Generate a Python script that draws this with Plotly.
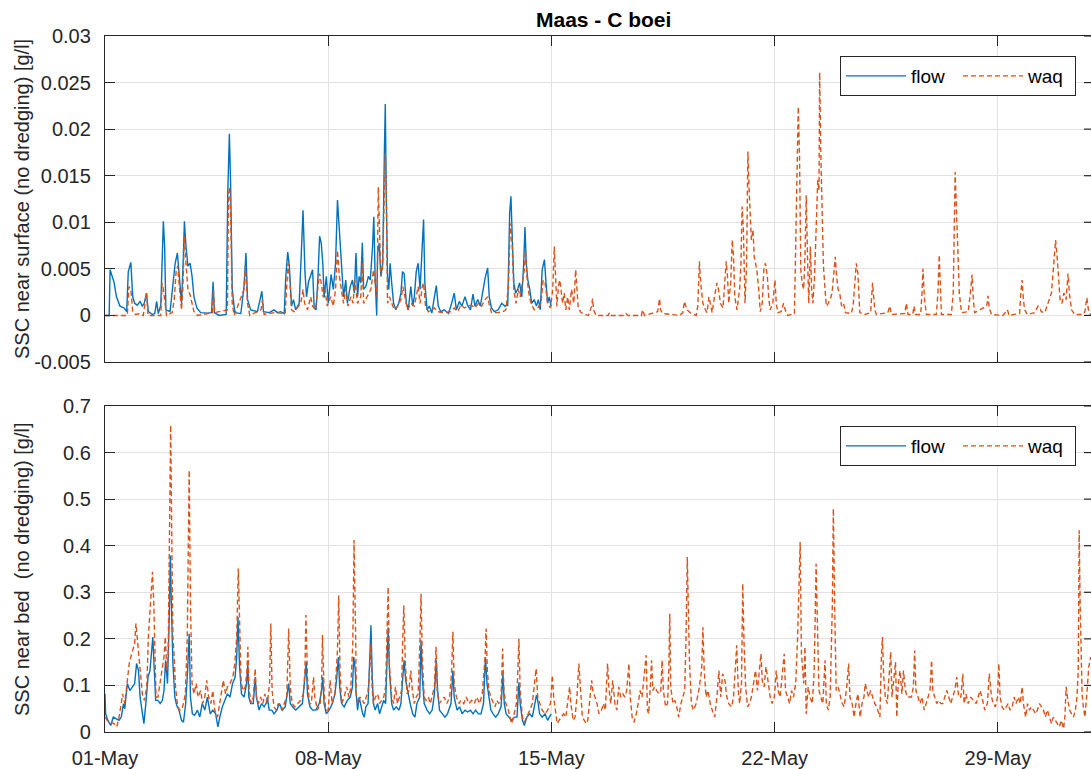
import datetime as dt
import plotly.graph_objects as go

START = dt.datetime(2019, 5, 1)

# ---------------- data (day offset from 01-May, value) ----------------
# top panel values in mg/l (= 0.001 g/l)
surf_flow = [(0.00,0),(0.13,0),(0.16,4.9),(0.28,3.6),(0.36,2.0),(0.47,1.0),(0.60,0.8),(0.68,0.4),(0.73,4.7),(0.81,5.7),
 (0.87,2.0),(0.93,1.3),(1.01,1.1),(1.10,1.5),(1.17,1.0),(1.23,1.3),(1.30,2.4),(1.36,0.4),(1.49,0.1),(1.56,0.2),
 (1.62,1.5),(1.67,0.2),(1.75,1.1),(1.80,8.3),(1.83,10.1),(1.87,7.4),(1.91,0.6),(2.04,0.4),(2.12,2.8),(2.20,5.6),
 (2.27,6.7),(2.33,4.2),(2.40,1.3),(2.45,5.6),(2.49,10.1),(2.54,7.4),(2.60,5.3),(2.67,5.6),(2.73,4.2),(2.79,2.0),
 (2.88,0.8),(3.00,0.3),(3.21,0.25),(3.34,0.3),(3.39,3.6),(3.43,0.3),(3.58,0),(3.80,0.1),(3.85,13.1),(3.90,19.5),
 (3.94,14.0),(3.99,2.8),(4.07,0.3),(4.26,0.2),(4.36,3.1),(4.42,6.7),(4.47,1.7),(4.57,0.6),(4.78,0.4),(4.92,2.6),
 (4.97,0.4),(5.15,0.3),(5.30,0.6),(5.41,0.3),(5.51,0.4),(5.62,0.2),(5.67,4.2),(5.73,6.8),(5.78,5.3),(5.85,1.0),
 (5.91,1.7),(5.98,0.6),(6.09,1.3),(6.16,7.0),(6.21,11.3),(6.27,4.7),(6.32,2.0),(6.38,3.6),(6.45,4.2),(6.51,4.9),
 (6.56,0.8),(6.62,0.6),(6.68,4.2),(6.73,8.5),(6.78,7.8),(6.83,5.6),(6.87,1.9),(6.94,4.2),(7.00,1.3),(7.09,4.4),
 (7.16,2.8),(7.23,5.6),(7.29,12.4),(7.35,8.8),(7.42,5.6),(7.48,2.0),(7.55,3.8),(7.60,1.3),(7.69,3.1),(7.76,3.8),
 (7.82,2.4),(7.87,6.7),(7.92,2.0),(7.97,4.2),(8.02,3.5),(8.07,7.8),(8.11,2.8),(8.18,3.1),(8.26,4.2),(8.32,3.8),
 (8.39,7.4),(8.43,10.6),(8.47,4.2),(8.52,0.0),(8.55,6.7),(8.60,7.8),(8.65,4.2),(8.71,5.6),(8.76,17.4),(8.79,22.7),
 (8.82,13.1),(8.86,4.2),(8.90,2.8),(8.94,5.6),(8.99,3.5),(9.05,1.3),(9.12,0.6),(9.21,1.3),(9.28,2.4),(9.33,4.7),
 (9.38,4.5),(9.45,1.3),(9.51,0.6),(9.59,3.1),(9.65,1.0),(9.70,2.0),(9.76,4.7),(9.82,5.6),(9.88,2.8),(9.95,7.0),
 (9.99,10.3),(10.03,3.5),(10.10,0.6),(10.17,1.0),(10.25,0.25),(10.33,2.0),(10.39,3.2),(10.45,1.0),(10.53,0.4),
 (10.64,0.6),(10.77,0.2),(10.87,1.3),(10.95,2.4),(11.02,0.6),(11.11,1.5),(11.19,1.0),(11.29,2.0),(11.37,1.1),
 (11.46,0.6),(11.54,2.3),(11.60,1.0),(11.69,1.7),(11.77,1.0),(11.84,2.4),(11.92,4.0),(12.00,5.1),(12.05,2.0),
 (12.12,0.8),(12.21,0.4),(12.33,0.6),(12.44,1.3),(12.54,1.0),(12.63,1.1),(12.69,11.0),(12.73,12.8),(12.77,8.5),
 (12.82,3.5),(12.88,2.4),(12.94,2.8),(13.00,3.5),(13.07,2.0),(13.13,5.6),(13.17,9.5),(13.21,5.6),(13.26,3.8),
 (13.32,2.8),(13.38,1.3),(13.46,1.7),(13.53,1.0),(13.59,1.7),(13.65,0.6),(13.71,4.9),(13.78,6.0),(13.83,3.5),
 (13.88,1.3),(13.93,2.0),(13.99,1.0)]

surf_waq = [(0.00,0),(0.70,0),(0.75,3.1),(0.81,2.8),(0.87,0.4),(0.96,0.1),(1.12,0.2),(1.20,0),(1.30,2.4),(1.35,0),
 (1.75,0),(1.79,3.5),(1.83,2.8),(1.88,1.0),(1.93,0),(2.11,0.3),(2.17,1.7),(2.23,4.7),(2.28,5.3),(2.34,2.8),
 (2.40,0.6),(2.44,2.8),(2.49,8.5),(2.54,5.6),(2.60,2.8),(2.67,2.2),(2.72,1.3),(2.79,0.4),(2.90,0),(3.37,0.3),
 (3.40,2.8),(3.44,0.3),(3.84,0.6),(3.87,12.8),(3.91,13.8),(3.95,9.2),(3.99,1.3),(4.05,0),(4.36,2.8),(4.40,5.3),
 (4.47,1.3),(4.54,0),(4.89,0.6),(4.94,1.7),(4.99,0.1),(5.30,0.3),(5.65,0.2),(5.70,4.2),(5.74,5.6),(5.80,3.5),
 (5.85,0.6),(5.93,0.4),(6.14,1.3),(6.21,2.8),(6.26,1.3),(6.35,0.6),(6.45,2.0),(6.51,1.0),(6.60,0.6),(6.67,2.8),
 (6.73,4.5),(6.78,3.5),(6.84,2.0),(6.90,2.8),(6.97,1.0),(7.08,2.0),(7.16,1.0),(7.23,2.8),(7.29,7.0),(7.35,4.2),
 (7.42,2.8),(7.48,1.3),(7.55,2.8),(7.62,1.0),(7.71,2.0),(7.78,1.3),(7.83,3.8),(7.87,2.8),(7.92,1.3),(8.02,2.0),
 (8.07,5.6),(8.11,1.3),(8.23,2.0),(8.34,2.8),(8.42,4.9),(8.48,3.5),(8.53,2.0),(8.57,13.8),(8.61,9.9),(8.65,4.2),
 (8.70,4.9),(8.76,15.3),(8.79,17.4),(8.82,13.8),(8.86,1.3),(8.92,2.0),(8.99,1.3),(9.07,0.6),(9.18,1.0),(9.28,1.7),
 (9.34,3.1),(9.40,2.0),(9.49,0.6),(9.59,1.3),(9.70,1.0),(9.76,2.0),(9.82,3.1),(9.88,1.3),(9.95,3.1),(9.99,3.5),
 (10.05,1.0),(10.14,0.4),(10.33,0.8),(10.43,0.4),(10.64,0.3),(10.85,0.4),(10.95,0.8),(11.06,0.4),(11.16,1.1),
 (11.27,0.8),(11.37,1.0),(11.50,1.1),(11.60,0.8),(11.71,1.3),(11.81,1.0),(11.92,1.7),(12.00,2.0),(12.06,1.0),
 (12.12,0.3),(12.31,0.3),(12.47,0.4),(12.57,0.6),(12.65,3.1),(12.69,7.8),(12.73,9.9),(12.77,7.4),(12.82,2.8),
 (12.89,1.3),(12.96,2.8),(13.02,2.0),(13.09,3.8),(13.15,4.9),(13.19,7.0),(13.23,4.2),(13.29,2.4),(13.36,1.3),
 (13.46,0.6),(13.57,0.8),(13.67,1.3),(13.74,3.8),(13.80,3.5),(13.88,1.3),(13.97,0.8),(14.04,2.8),(14.09,7.4),
 (14.13,4.5),(14.17,1.0),(14.22,3.1),(14.26,3.8),(14.30,2.8),(14.35,1.3),(14.40,2.4),(14.45,0.6),(14.51,2.0),
 (14.56,0.6),(14.63,2.8),(14.70,1.3),(14.76,4.9),(14.80,2.8),(14.84,0.8),(14.93,0.3),(15.04,0.1),(15.16,0),
 (15.26,1.0),(15.29,1.8),(15.32,0.6),(15.40,0),(15.78,0),(15.82,0.3),(15.87,0),(16.30,0),(16.34,0.2),(16.40,0),
 (16.82,0),(16.86,0.6),(16.92,0),(17.33,0.4),(17.39,1.8),(17.42,0.6),(17.49,0.2),(18.02,0),(18.12,0.3),(18.17,1.5),
 (18.25,0.6),(18.35,0.3),(18.54,0),(18.59,1.0),(18.64,5.8),(18.68,3.5),(18.75,1.3),(18.83,0.6),(18.88,0.3),
 (18.94,2.0),(18.99,1.0),(19.04,0.3),(19.11,2.0),(19.19,3.5),(19.24,2.8),(19.30,1.3),(19.38,0.8),(19.44,3.5),
 (19.48,5.8),(19.52,4.2),(19.56,1.3),(19.62,3.5),(19.67,8.1),(19.71,6.3),(19.75,2.0),(19.82,0.6),(19.90,2.8),
 (19.94,5.3),(19.98,11.7),(20.02,9.2),(20.07,1.3),(20.12,5.6),(20.16,17.6),(20.20,13.4),(20.24,10.3),(20.27,8.1),
 (20.32,9.2),(20.36,6.3),(20.40,5.6),(20.44,4.9),(20.50,2.8),(20.55,0.4),(20.61,1.3),(20.66,4.9),(20.71,5.6),
 (20.77,4.2),(20.82,1.7),(20.86,0.6),(20.94,1.3),(21.01,3.8),(21.05,1.3),(21.10,0.3),(21.20,0.4),(21.28,1.3),
 (21.33,0.6),(21.41,0),(21.62,0.2),(21.67,9.9),(21.74,22.4),(21.78,17.0),(21.82,4.9),(21.86,3.5),(21.91,2.8),
 (21.95,6.3),(21.99,12.9),(22.03,6.3),(22.07,1.3),(22.12,7.4),(22.16,2.8),(22.20,1.3),(22.25,4.2),(22.30,9.2),
 (22.35,14.5),(22.39,13.4),(22.41,26.1),(22.45,17.0),(22.49,9.9),(22.53,5.3),(22.58,2.8),(22.62,1.0),(22.68,1.3),
 (22.74,1.7),(22.80,2.4),(22.86,4.5),(22.90,6.3),(22.94,4.2),(22.99,2.8),(23.04,2.4),(23.10,1.0),(23.16,1.3),
 (23.22,0.3),(23.40,0.2),(23.46,1.0),(23.56,5.6),(23.61,4.5),(23.67,0.3),(23.82,0.1),(24.01,0.3),(24.07,3.5),
 (24.14,0.6),(24.19,0.1),(24.55,0.3),(24.61,1.0),(24.66,0.1),(25.08,0.2),(25.13,1.3),(25.18,0.1),(25.33,0.1),
 (25.37,1.0),(25.41,0.1),(25.58,0.1),(25.62,2.4),(25.65,5.0),(25.70,1.7),(25.76,0.1),(26.07,0.1),(26.12,2.4),
 (26.16,6.5),(26.20,2.4),(26.23,0.1),(26.54,0.1),(26.60,2.4),(26.66,15.4),(26.71,9.5),(26.75,6.0),(26.79,2.4),
 (26.86,0.3),(27.07,0.4),(27.15,2.8),(27.19,4.4),(27.23,1.7),(27.27,0.3),(27.65,1.0),(27.69,2.1),(27.73,0.8),
 (27.80,0.1),(28.16,0),(28.30,0.6),(28.35,0),(28.68,0.2),(28.72,2.4),(28.76,3.8),(28.80,1.7),(28.84,0.6),
 (28.92,0.1),(29.15,0.3),(29.26,1.0),(29.32,0.8),(29.36,0.4),(29.47,0.3),(29.68,2.4),(29.76,6.5),(29.81,8.1),
 (29.85,6.7),(29.89,4.5),(29.95,1.7),(30.01,1.3),(30.07,2.4),(30.14,1.7),(30.20,4.5),(30.24,2.4),(30.31,0.6),
 (30.41,0.1),(30.67,0.1),(30.73,0.4),(30.79,1.9),(30.85,0.3),(30.91,0.1)]

# bottom panel values in g/l
bed_flow = [(0.00,0.082),(0.02,0.039),(0.09,0.025),(0.18,0.014),(0.26,0.032),(0.35,0.029),(0.44,0.025),(0.51,0.032),
 (0.58,0.061),(0.62,0.050),(0.70,0.104),(0.78,0.089),(0.86,0.097),(0.93,0.104),(0.99,0.147),(1.05,0.132),(1.10,0.075),
 (1.17,0.039),(1.22,0.018),(1.28,0.061),(1.35,0.118),(1.41,0.132),(1.45,0.161),(1.50,0.204),(1.54,0.140),(1.59,0.068),
 (1.66,0.068),(1.73,0.061),(1.80,0.068),(1.85,0.089),(1.90,0.154),(1.96,0.104),(2.01,0.233),(2.05,0.379),(2.08,0.276),
 (2.13,0.147),(2.19,0.075),(2.25,0.057),(2.32,0.047),(2.40,0.025),(2.46,0.021),(2.53,0.061),(2.59,0.132),(2.64,0.211),
 (2.68,0.075),(2.74,0.039),(2.81,0.036),(2.90,0.047),(2.97,0.032),(3.05,0.061),(3.13,0.047),(3.21,0.075),(3.30,0.039),
 (3.38,0.047),(3.47,0.039),(3.54,0.011),(3.60,0.032),(3.68,0.054),(3.76,0.068),(3.84,0.082),(3.92,0.075),(4.00,0.104),
 (4.08,0.118),(4.13,0.161),(4.17,0.247),(4.22,0.140),(4.28,0.082),(4.36,0.075),(4.44,0.104),(4.48,0.147),(4.51,0.075),
 (4.57,0.061),(4.65,0.061),(4.71,0.118),(4.75,0.075),(4.83,0.047),(4.91,0.061),(4.99,0.054),(5.05,0.061),(5.09,0.075),
 (5.15,0.047),(5.23,0.047),(5.30,0.039),(5.39,0.047),(5.47,0.061),(5.56,0.047),(5.65,0.054),(5.72,0.082),(5.76,0.104),
 (5.81,0.061),(5.88,0.054),(5.98,0.047),(6.09,0.054),(6.19,0.061),(6.27,0.118),(6.31,0.150),(6.35,0.082),(6.43,0.054),
 (6.51,0.047),(6.61,0.047),(6.72,0.061),(6.79,0.089),(6.83,0.118),(6.87,0.061),(6.94,0.039),(7.03,0.047),(7.13,0.061),
 (7.21,0.082),(7.27,0.118),(7.32,0.161),(7.36,0.097),(7.42,0.061),(7.50,0.054),(7.60,0.068),(7.69,0.075),(7.76,0.097),
 (7.80,0.161),(7.85,0.132),(7.87,0.089),(7.92,0.047),(7.97,0.075),(8.02,0.061),(8.08,0.039),(8.13,0.032),(8.18,0.054),
 (8.25,0.061),(8.32,0.175),(8.34,0.229),(8.38,0.118),(8.42,0.061),(8.47,0.047),(8.55,0.061),(8.61,0.039),(8.67,0.054),
 (8.74,0.068),(8.80,0.061),(8.84,0.161),(8.88,0.225),(8.92,0.132),(8.99,0.061),(9.05,0.047),(9.13,0.054),(9.22,0.047),
 (9.28,0.061),(9.34,0.118),(9.38,0.154),(9.43,0.111),(9.49,0.089),(9.57,0.061),(9.65,0.039),(9.72,0.032),(9.78,0.061),
 (9.87,0.075),(9.91,0.197),(9.95,0.118),(10.01,0.061),(10.10,0.047),(10.18,0.039),(10.26,0.047),(10.33,0.082),
 (10.39,0.154),(10.43,0.089),(10.49,0.047),(10.58,0.039),(10.66,0.032),(10.74,0.039),(10.85,0.061),(10.91,0.132),
 (10.95,0.075),(11.04,0.047),(11.12,0.054),(11.20,0.039),(11.29,0.047),(11.37,0.043),(11.46,0.047),(11.54,0.039),
 (11.62,0.047),(11.71,0.039),(11.79,0.039),(11.87,0.061),(11.93,0.161),(11.98,0.104),(12.04,0.075),(12.10,0.047),
 (12.17,0.039),(12.25,0.032),(12.33,0.039),(12.42,0.054),(12.48,0.125),(12.52,0.061),(12.58,0.039),(12.67,0.032),
 (12.75,0.025),(12.84,0.032),(12.92,0.032),(12.98,0.107),(13.02,0.061),(13.09,0.025),(13.15,0.014),(13.23,0.032),
 (13.32,0.039),(13.40,0.032),(13.46,0.054),(13.53,0.079),(13.57,0.068),(13.63,0.039),(13.71,0.032),(13.80,0.039),
 (13.88,0.025),(13.94,0.032),(13.99,0.039)]

bed_waq = [(0.00,0.032),(0.07,0.025),(0.18,0.021),(0.28,0.018),(0.37,0.011),(0.44,0.032),(0.51,0.061),(0.55,0.082),
 (0.62,0.061),(0.70,0.111),(0.76,0.147),(0.81,0.161),(0.87,0.175),(0.93,0.190),(0.97,0.233),(1.01,0.204),(1.06,0.161),
 (1.12,0.118),(1.18,0.075),(1.24,0.068),(1.31,0.097),(1.36,0.204),(1.40,0.247),(1.44,0.276),(1.49,0.344),(1.53,0.276),
 (1.56,0.161),(1.60,0.075),(1.66,0.075),(1.73,0.104),(1.79,0.132),(1.85,0.161),(1.89,0.204),(1.94,0.132),(1.98,0.161),
 (2.02,0.490),(2.06,0.659),(2.10,0.376),(2.13,0.204),(2.17,0.161),(2.21,0.097),(2.27,0.061),(2.33,0.047),(2.40,0.047),
 (2.46,0.061),(2.52,0.082),(2.58,0.204),(2.64,0.562),(2.68,0.276),(2.73,0.104),(2.79,0.082),(2.86,0.104),(2.92,0.075),
 (3.00,0.089),(3.06,0.061),(3.13,0.075),(3.19,0.111),(3.25,0.075),(3.32,0.061),(3.38,0.089),(3.44,0.047),(3.53,0.032),
 (3.59,0.061),(3.65,0.089),(3.71,0.111),(3.78,0.082),(3.84,0.097),(3.92,0.104),(4.01,0.118),(4.07,0.147),(4.13,0.204),
 (4.18,0.351),(4.23,0.240),(4.27,0.104),(4.34,0.089),(4.40,0.097),(4.45,0.132),(4.48,0.183),(4.52,0.089),(4.59,0.061),
 (4.65,0.075),(4.71,0.136),(4.75,0.075),(4.81,0.061),(4.88,0.075),(4.95,0.061),(5.01,0.082),(5.09,0.061),(5.16,0.104),
 (5.20,0.233),(5.24,0.089),(5.30,0.054),(5.37,0.047),(5.43,0.061),(5.49,0.054),(5.55,0.047),(5.62,0.061),(5.70,0.075),
 (5.76,0.222),(5.81,0.097),(5.87,0.061),(5.95,0.054),(6.04,0.061),(6.14,0.068),(6.22,0.082),(6.27,0.132),(6.30,0.251),
 (6.35,0.118),(6.41,0.061),(6.47,0.061),(6.54,0.118),(6.58,0.075),(6.66,0.047),(6.75,0.061),(6.79,0.097),(6.82,0.208),
 (6.87,0.089),(6.92,0.047),(7.00,0.047),(7.06,0.111),(7.12,0.061),(7.21,0.082),(7.29,0.175),(7.33,0.293),(7.37,0.132),
 (7.42,0.061),(7.50,0.075),(7.58,0.097),(7.65,0.075),(7.71,0.097),(7.77,0.190),(7.81,0.412),(7.86,0.204),(7.88,0.075),
 (7.94,0.061),(8.00,0.075),(8.07,0.068),(8.13,0.061),(8.19,0.075),(8.25,0.089),(8.32,0.154),(8.34,0.190),(8.38,0.089),
 (8.42,0.061),(8.48,0.075),(8.55,0.082),(8.61,0.061),(8.67,0.068),(8.74,0.075),(8.80,0.097),(8.84,0.204),(8.88,0.311),
 (8.92,0.140),(8.99,0.075),(9.05,0.061),(9.11,0.097),(9.17,0.061),(9.24,0.075),(9.30,0.089),(9.34,0.204),(9.37,0.272),
 (9.42,0.147),(9.47,0.082),(9.53,0.089),(9.59,0.132),(9.64,0.089),(9.70,0.061),(9.76,0.075),(9.82,0.082),(9.88,0.204),
 (9.91,0.297),(9.95,0.161),(10.01,0.075),(10.07,0.068),(10.14,0.075),(10.20,0.061),(10.26,0.075),(10.33,0.097),
 (10.38,0.183),(10.42,0.089),(10.48,0.061),(10.56,0.068),(10.64,0.075),(10.72,0.061),(10.81,0.075),(10.87,0.132),
 (10.91,0.215),(10.95,0.104),(11.02,0.075),(11.10,0.061),(11.16,0.068),(11.25,0.061),(11.33,0.075),(11.41,0.061),
 (11.50,0.068),(11.58,0.061),(11.66,0.075),(11.75,0.061),(11.83,0.082),(11.92,0.161),(11.95,0.222),(11.99,0.132),
 (12.04,0.089),(12.10,0.075),(12.17,0.061),(12.23,0.054),(12.29,0.068),(12.35,0.061),(12.42,0.075),(12.47,0.179),
 (12.51,0.089),(12.57,0.061),(12.65,0.047),(12.71,0.032),(12.75,0.018),(12.81,0.032),(12.90,0.061),(12.94,0.118),
 (12.98,0.200),(13.02,0.089),(13.09,0.032),(13.15,0.021),(13.23,0.032),(13.32,0.047),(13.40,0.061),(13.46,0.097),
 (13.52,0.136),(13.57,0.075),(13.63,0.061),(13.71,0.047),(13.80,0.039),(13.88,0.047),(13.97,0.061),(14.03,0.122),
 (14.07,0.075),(14.13,0.039),(14.18,0.018),(14.24,0.025),(14.30,0.032),(14.38,0.039),(14.45,0.032),(14.51,0.061),
 (14.57,0.097),(14.61,0.061),(14.68,0.025),(14.74,0.032),(14.80,0.075),(14.86,0.147),(14.91,0.097),(14.97,0.032),
 (15.03,0.025),(15.09,0.018),(15.14,0.025),(15.20,0.061),(15.26,0.111),(15.30,0.089),(15.37,0.075),(15.43,0.061),
 (15.49,0.039),(15.57,0.047),(15.63,0.061),(15.69,0.047),(15.76,0.147),(15.80,0.097),(15.86,0.061),(15.92,0.111),
 (15.99,0.061),(16.05,0.047),(16.11,0.097),(16.17,0.075),(16.24,0.082),(16.30,0.075),(16.36,0.089),(16.43,0.147),
 (16.47,0.075),(16.53,0.032),(16.59,0.021),(16.66,0.039),(16.72,0.061),(16.78,0.089),(16.84,0.075),(16.91,0.118),
 (16.97,0.165),(17.01,0.047),(17.05,0.039),(17.10,0.097),(17.14,0.154),(17.18,0.089),(17.24,0.097),(17.30,0.089),
 (17.37,0.082),(17.43,0.089),(17.47,0.154),(17.51,0.089),(17.58,0.054),(17.64,0.061),(17.68,0.132),(17.71,0.254),
 (17.74,0.097),(17.81,0.061),(17.87,0.068),(17.93,0.054),(17.99,0.032),(18.06,0.061),(18.12,0.075),(18.18,0.089),
 (18.22,0.204),(18.26,0.376),(18.29,0.276),(18.33,0.147),(18.39,0.061),(18.45,0.047),(18.54,0.061),(18.62,0.089),
 (18.71,0.132),(18.75,0.225),(18.79,0.132),(18.85,0.075),(18.91,0.089),(18.98,0.061),(19.04,0.047),(19.12,0.032),
 (19.19,0.075),(19.25,0.132),(19.31,0.075),(19.37,0.125),(19.44,0.111),(19.50,0.075),(19.56,0.061),(19.65,0.054),
 (19.71,0.075),(19.77,0.132),(19.81,0.186),(19.86,0.089),(19.90,0.061),(19.96,0.104),(20.00,0.319),(20.04,0.190),
 (20.09,0.097),(20.15,0.054),(20.21,0.061),(20.27,0.075),(20.34,0.104),(20.40,0.132),(20.46,0.089),(20.53,0.132),
 (20.57,0.168),(20.61,0.111),(20.67,0.097),(20.73,0.140),(20.80,0.104),(20.86,0.075),(20.92,0.061),(20.99,0.075),
 (21.05,0.132),(21.11,0.089),(21.17,0.075),(21.24,0.118),(21.30,0.168),(21.34,0.089),(21.40,0.075),(21.47,0.061),
 (21.53,0.089),(21.59,0.075),(21.66,0.104),(21.72,0.204),(21.80,0.408),(21.84,0.168),(21.91,0.104),(21.95,0.183),
 (21.99,0.039),(22.05,0.097),(22.11,0.075),(22.18,0.061),(22.24,0.132),(22.30,0.361),(22.35,0.204),(22.39,0.089),
 (22.45,0.075),(22.51,0.061),(22.58,0.154),(22.62,0.061),(22.68,0.047),(22.74,0.075),(22.81,0.276),(22.84,0.480),
 (22.88,0.276),(22.93,0.089),(22.99,0.097),(23.06,0.075),(23.12,0.061),(23.18,0.054),(23.26,0.097),(23.32,0.147),
 (23.36,0.075),(23.43,0.061),(23.49,0.032),(23.55,0.061),(23.61,0.082),(23.68,0.032),(23.74,0.061),(23.80,0.075),
 (23.84,0.104),(23.89,0.089),(23.95,0.075),(24.01,0.089),(24.07,0.075),(24.14,0.061),(24.20,0.054),(24.26,0.039),
 (24.30,0.032),(24.35,0.168),(24.38,0.204),(24.42,0.118),(24.47,0.075),(24.53,0.061),(24.60,0.132),(24.64,0.172),
 (24.68,0.075),(24.74,0.111),(24.79,0.150),(24.83,0.032),(24.87,0.097),(24.93,0.132),(24.99,0.082),(25.04,0.132),
 (25.10,0.089),(25.16,0.075),(25.22,0.075),(25.29,0.075),(25.35,0.097),(25.39,0.175),(25.43,0.089),(25.50,0.075),
 (25.56,0.061),(25.62,0.075),(25.69,0.047),(25.75,0.061),(25.81,0.075),(25.87,0.089),(25.92,0.154),(25.96,0.089),
 (26.02,0.075),(26.08,0.061),(26.15,0.068),(26.21,0.061),(26.27,0.061),(26.33,0.075),(26.40,0.089),(26.46,0.075),
 (26.52,0.061),(26.58,0.075),(26.65,0.089),(26.71,0.118),(26.77,0.075),(26.84,0.075),(26.90,0.125),(26.94,0.061),
 (27.00,0.082),(27.07,0.061),(27.15,0.075),(27.23,0.068),(27.32,0.061),(27.38,0.075),(27.44,0.089),(27.50,0.075),
 (27.59,0.047),(27.67,0.061),(27.73,0.125),(27.80,0.075),(27.86,0.061),(27.92,0.054),(27.99,0.075),(28.03,0.147),
 (28.07,0.075),(28.13,0.054),(28.20,0.047),(28.26,0.054),(28.32,0.061),(28.38,0.047),(28.45,0.054),(28.51,0.075),
 (28.57,0.061),(28.64,0.075),(28.70,0.061),(28.76,0.097),(28.80,0.061),(28.87,0.032),(28.93,0.061),(28.99,0.047),
 (29.05,0.054),(29.12,0.047),(29.18,0.039),(29.24,0.047),(29.30,0.061),(29.37,0.054),(29.43,0.047),(29.49,0.032),
 (29.55,0.047),(29.62,0.032),(29.68,0.018),(29.74,0.032),(29.81,0.025),(29.87,0.018),(29.93,0.011),(29.99,0.025),
 (30.06,0.007),(30.10,0.032),(30.14,0.097),(30.18,0.075),(30.25,0.047),(30.31,0.039),(30.37,0.032),(30.43,0.047),
 (30.48,0.075),(30.52,0.132),(30.55,0.433),(30.58,0.276),(30.60,0.204),(30.64,0.082),(30.68,0.054),(30.73,0.032),
 (30.79,0.082),(30.85,0.140),(30.91,0.161)]

x_tick_days = [0, 7, 14, 21, 28]
x_tick_labels = ["01-May", "08-May", "15-May", "22-May", "29-May"]
surf_ticks = [-0.005, 0, 0.005, 0.01, 0.015, 0.02, 0.025, 0.03]
surf_tick_labels = ["-0.005", "0", "0.005", "0.01", "0.015", "0.02", "0.025", "0.03"]
bed_ticks = [0, 0.1, 0.2, 0.3, 0.4, 0.5, 0.6, 0.7]
bed_tick_labels = ["0", "0.1", "0.2", "0.3", "0.4", "0.5", "0.6", "0.7"]

# ---------------- helpers ----------------
def to_xy(pairs, scale=1.0):
    xs = [START + dt.timedelta(days=d) for d, _ in pairs]
    ys = [v * scale for _, v in pairs]
    return xs, ys

FONT = "Liberation Sans, Arial, Helvetica, sans-serif"
AX = "#262626"
GRID = "#e2e2e2"
BLUE = "#0072BD"
ORANGE = "#D95319"
W, H = 1091, 769
L, R, T, B = 105, 0, 36, 37
PW = W - L - R
PH = H - T - B
x_end = START + dt.timedelta(days=30.92)
x_range = [START, x_end]
x_tickvals = [START + dt.timedelta(days=d) for d in x_tick_days]

top_dom = [(732 - 362) / PH, 1.0]
bot_dom = [0.0, (732 - 406) / PH]

fig = go.Figure()
sx, sy = to_xy(surf_flow, 0.001)
fig.add_trace(go.Scatter(x=sx, y=sy, mode="lines", name="flow", line=dict(color=BLUE, width=1.4),
                         xaxis="x", yaxis="y", legend="legend"))
sx, sy = to_xy(surf_waq, 0.001)
fig.add_trace(go.Scatter(x=sx, y=sy, mode="lines", name="waq", line=dict(color=ORANGE, width=1.4, dash="5px,3px"),
                         xaxis="x", yaxis="y", legend="legend"))
bx, by = to_xy(bed_flow)
fig.add_trace(go.Scatter(x=bx, y=by, mode="lines", name="flow", line=dict(color=BLUE, width=1.4),
                         xaxis="x2", yaxis="y2", legend="legend2"))
bx, by = to_xy(bed_waq)
fig.add_trace(go.Scatter(x=bx, y=by, mode="lines", name="waq", line=dict(color=ORANGE, width=1.4, dash="5px,3px"),
                         xaxis="x2", yaxis="y2", legend="legend2"))

xcommon = dict(type="date", range=x_range, tickvals=x_tickvals, ticktext=x_tick_labels,
               showgrid=True, gridcolor=GRID, gridwidth=1.2, ticks="inside", ticklen=10, tickwidth=1.2,
               tickcolor=AX, showline=True, linecolor=AX, linewidth=1.3, mirror="ticks", zeroline=False,
               tickfont=dict(family=FONT, size=20, color="#262626"))
ycommon = dict(showgrid=True, gridcolor=GRID, gridwidth=1.2, ticks="inside", ticklen=10, tickwidth=1.2,
               tickcolor=AX, showline=True, linecolor=AX, linewidth=1.3, mirror=False, zeroline=False,
               tickfont=dict(family=FONT, size=20, color="#262626"), ticklabelstandoff=9)

legend_common = dict(orientation="h", xanchor="right", yanchor="top", bgcolor="white", bordercolor=AX,
                     borderwidth=1, font=dict(family=FONT, size=19, color="#000000"),
                     entrywidth=42, entrywidthmode="pixels", itemwidth=60, tracegroupgap=0)

fig.update_layout(
    width=W, height=H, autosize=False,
    margin=dict(l=L, r=R, t=T, b=B, pad=0),
    paper_bgcolor="white", plot_bgcolor="white",
    font=dict(family=FONT, size=20, color="#262626"),
    xaxis=dict(xcommon, anchor="y", domain=[0, 1], showticklabels=False),
    yaxis=dict(ycommon, anchor="x", domain=top_dom, range=[-0.005, 0.03],
               tickvals=surf_ticks, ticktext=surf_tick_labels),
    xaxis2=dict(xcommon, anchor="y2", domain=[0, 1], showticklabels=True, ticklabelstandoff=8),
    yaxis2=dict(ycommon, anchor="x2", domain=bot_dom, range=[0, 0.7],
                tickvals=bed_ticks, ticktext=bed_tick_labels),
    legend=dict(legend_common, x=(1076 - L) / PW, y=(732 - 56) / PH),
    legend2=dict(legend_common, x=(1076 - L) / PW, y=(732 - 426) / PH),
    showlegend=True,
)

# title and y-axis titles
fig.add_annotation(text="<b>Maas - C boei</b>", xref="paper", yref="paper",
                   x=(603 - L) / PW, y=(732 - 19) / PH, xanchor="center", yanchor="middle",
                   showarrow=False, font=dict(family=FONT, size=21, color="#000000"))
fig.add_annotation(text="SSC near surface (no dredging) [g/l]", xref="paper", yref="paper",
                   x=(22 - L) / PW, y=sum(top_dom) / 2, xanchor="center", yanchor="middle",
                   textangle=-90, showarrow=False, font=dict(family=FONT, size=20, color="#262626"))
fig.add_annotation(text="SSC near bed \u00a0(no dredging) [g/l]", xref="paper", yref="paper",
                   x=(22 - L) / PW, y=sum(bot_dom) / 2, xanchor="center", yanchor="middle",
                   textangle=-90, showarrow=False, font=dict(family=FONT, size=20, color="#262626"))

# right-hand inward tick marks (the right frame edge itself lies just outside the window)
rx0 = (1084 - L) / PW
for v in surf_ticks:
    fig.add_shape(type="line", xref="paper", yref="y", x0=rx0, x1=1.0, y0=v, y1=v,
                  line=dict(color=AX, width=1.2))
for v in bed_ticks:
    fig.add_shape(type="line", xref="paper", yref="y2", x0=rx0, x1=1.0, y0=v, y1=v,
                  line=dict(color=AX, width=1.2))

fig.write_html("out.html")
